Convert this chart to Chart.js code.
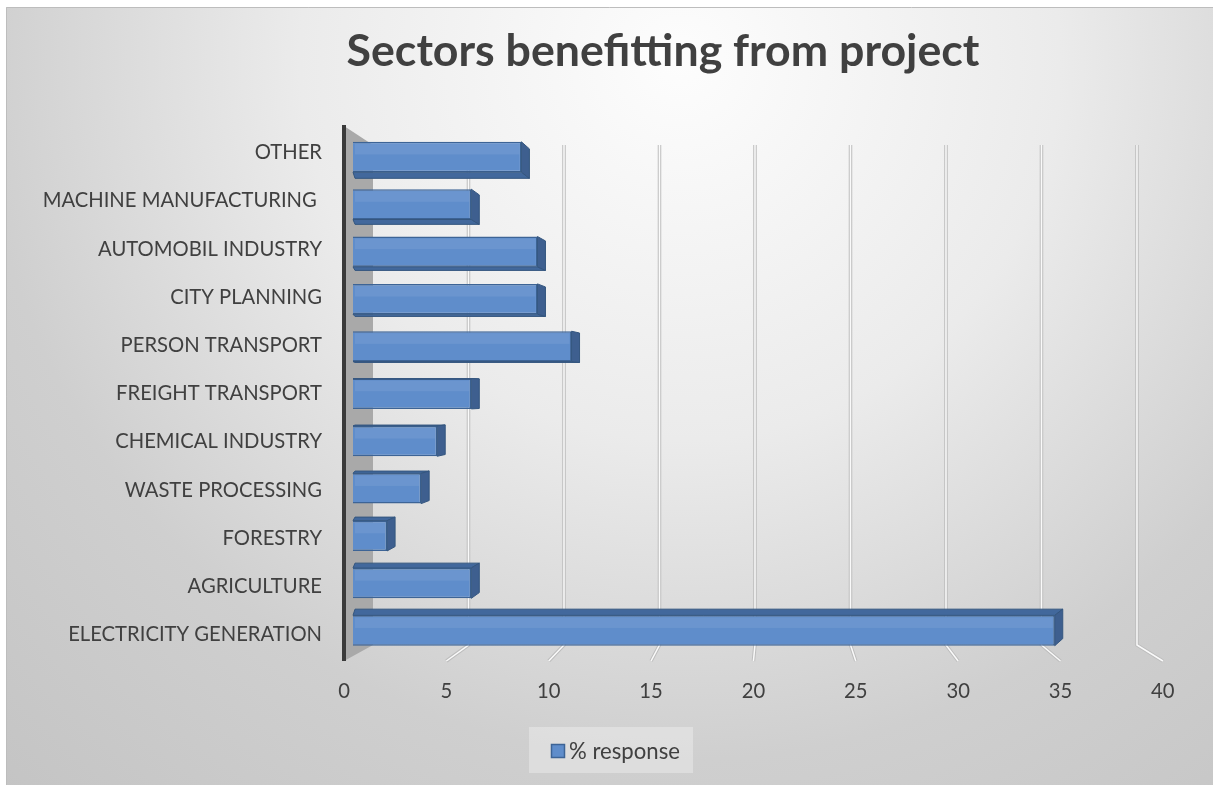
<!DOCTYPE html>
<html>
<head>
<meta charset="utf-8">
<script src="https://cdn.jsdelivr.net/npm/chart.js@4.4.1/dist/chart.umd.min.js"></script>
<style>
  html, body { margin: 0; padding: 0; background: #fff; }
  #wrap { width: 1213px; height: 785px; }
</style>
</head>
<body>
<div id="wrap"><canvas id="sectors" width="1213" height="785"></canvas></div>
<script>
// values (% response), top to bottom
const sectors = ["OTHER", "MACHINE MANUFACTURING ", "AUTOMOBIL INDUSTRY", "CITY PLANNING", "PERSON TRANSPORT",
  "FREIGHT TRANSPORT", "CHEMICAL INDUSTRY", "WASTE PROCESSING", "FORESTRY", "AGRICULTURE", "ELECTRICITY GENERATION"];
const response = [8.4, 5.9, 9.2, 9.2, 10.9, 5.9, 4.2, 3.4, 1.7, 5.9, 35];
const xTicks = [0, 5, 10, 15, 20, 25, 30, 35, 40];
const seriesName = "% response";
const chartTitle = "Sectors benefitting from project";

const textColor = "#404040";
const barFill = "#5f8dcb";
const barEdge = "#3d6496";
const barDark = "#42689c";
const family = "Lato, 'Open Sans', sans-serif";

// fit font sizes so the text widths match the picture
const mctx = document.createElement("canvas").getContext("2d");
function fitSize(text, weight, target) {
  mctx.font = weight + " 100px " + family;
  return 100 * target / mctx.measureText(text).width;
}
const titleSize = fitSize(chartTitle, "bold", 633);
const labelSize = fitSize("ELECTRICITY GENERATION", "normal", 254);
const legendSize = fitSize(seriesName, "normal", 111);

// perspective helpers, all from the x scale
function scaleInfo(chart) {
  const xs = chart.scales.x;
  const p0 = xs.getPixelForValue(0);
  const k = (xs.getPixelForValue(40) - p0) / 40;
  return { p0: p0, k: k };
}
function frontX(chart, v) { const s = scaleInfo(chart); return s.p0 - 9 + v * s.k * 1.021; }
function backX(chart, v) { const s = scaleInfo(chart); return s.p0 + 20 + v * s.k * 0.9526; }

const chart3d = {
  id: "chart3d",
  beforeDraw(chart) {
    const ctx = chart.ctx;
    ctx.save();
    ctx.fillStyle = "#ffffff";
    ctx.fillRect(0, 0, chart.width, chart.height);
    const g = ctx.createRadialGradient(680, 60, 0, 680, 60, 1000);
    g.addColorStop(0, "#fdfdfd");
    g.addColorStop(0.38, "#ebebeb");
    g.addColorStop(0.7, "#cfcfcf");
    g.addColorStop(1, "#c4c4c4");
    ctx.fillStyle = g;
    ctx.fillRect(6, 7, chart.width - 6, chart.height - 7);
    ctx.strokeStyle = "#bdbdbd";
    ctx.lineWidth = 1;
    ctx.beginPath();
    ctx.moveTo(6.5, chart.height);
    ctx.lineTo(6.5, 7.5);
    ctx.lineTo(chart.width, 7.5);
    ctx.stroke();
    ctx.restore();
  },
  beforeDatasetsDraw(chart) {
    const ctx = chart.ctx;
    const a = chart.chartArea;
    const backTop = a.top + 11.7, frontTop = a.top - 7.3;
    const backBottom = a.bottom - 9.2, frontBottom = a.bottom + 6.8;
    ctx.save();
    // side wall
    ctx.fillStyle = "#a9a9a9";
    ctx.beginPath();
    ctx.moveTo(frontX(chart, 0), frontTop);
    ctx.lineTo(backX(chart, 0), backTop);
    ctx.lineTo(backX(chart, 0), backBottom);
    ctx.lineTo(frontX(chart, 0), frontBottom);
    ctx.closePath();
    ctx.fill();
    // back and floor grid lines
    xTicks.forEach(function (v) {
      if (v === 0) return;
      const bx = backX(chart, v), fx = frontX(chart, v);
      [["#bdbdbd", 3.5], ["#fafafa", 1.5]].forEach(function (st) {
        ctx.strokeStyle = st[0];
        ctx.lineWidth = st[1];
        ctx.beginPath();
        ctx.moveTo(bx, backTop);
        ctx.lineTo(bx, backBottom);
        ctx.lineTo(fx, frontBottom);
        ctx.stroke();
      });
    });
    // axis line
    ctx.strokeStyle = "#3a3a3a";
    ctx.lineWidth = 4;
    ctx.beginPath();
    ctx.moveTo(frontX(chart, 0), frontTop - 1);
    ctx.lineTo(frontX(chart, 0), frontBottom);
    ctx.stroke();
    ctx.restore();
  },
  afterDatasetsDraw(chart) {
    const ctx = chart.ctx;
    const a = chart.chartArea;
    const h = (a.top + a.bottom) / 2;
    const f = 0.028, d = 8;
    ctx.save();
    ctx.lineWidth = 1;
    ctx.strokeStyle = "#34567f";
    chart.getDatasetMeta(0).data.forEach(function (bar) {
      const p = bar.getProps(["x", "y", "base", "height"], true);
      const x0 = p.base, x1 = p.x;
      const yt = p.y - p.height / 2, yb = p.y + p.height / 2;
      const ytb = yt + (h - yt) * f, ybb = yb + (h - yb) * f;
      // soft highlight on the front face
      ctx.fillStyle = "rgba(255,255,255,0.08)";
      ctx.fillRect(x0 + 2, yt + 2, x1 - x0 - 4, (yb - yt) * 0.35);
      ctx.fillStyle = barDark;
      // top or bottom face
      ctx.beginPath();
      if (p.y < h) {
        ctx.moveTo(x0, yb); ctx.lineTo(x1, yb); ctx.lineTo(x1 + d, ybb); ctx.lineTo(x0 + 2, ybb);
      } else {
        ctx.moveTo(x0, yt); ctx.lineTo(x1, yt); ctx.lineTo(x1 + d, ytb); ctx.lineTo(x0 + 2, ytb);
      }
      ctx.closePath();
      ctx.fill();
      ctx.stroke();
      // end cap
      ctx.fillStyle = "#3e5f8f";
      ctx.beginPath();
      ctx.moveTo(x1, yt); ctx.lineTo(x1 + d, ytb); ctx.lineTo(x1 + d, ybb); ctx.lineTo(x1, yb);
      ctx.closePath();
      ctx.fill();
      ctx.stroke();
    });
    ctx.restore();
  },
  afterDraw(chart) {
    const ctx = chart.ctx;
    const a = chart.chartArea;
    const h = (a.top + a.bottom) / 2;
    const ys = chart.scales.y;
    ctx.save();
    ctx.fillStyle = textColor;
    // title
    ctx.font = "bold " + titleSize + "px " + family;
    ctx.textAlign = "center";
    ctx.textBaseline = "alphabetic";
    ctx.fillText(chartTitle, 663, 66);
    // category labels on the front plane
    ctx.font = labelSize + "px " + family;
    ctx.textAlign = "right";
    ctx.textBaseline = "middle";
    sectors.forEach(function (s, i) {
      const y = h + (ys.getPixelForValue(i) - h) * 1.018;
      ctx.fillText(s, 322, y);
    });
    // value ticks
    ctx.textAlign = "center";
    xTicks.forEach(function (v) {
      ctx.fillText(String(v), frontX(chart, v), a.bottom + 37);
    });
    // legend
    ctx.fillStyle = "rgba(255,255,255,0.3)";
    ctx.fillRect(529, 727, 164, 46);
    ctx.fillStyle = barFill;
    ctx.strokeStyle = barEdge;
    ctx.lineWidth = 1.5;
    ctx.fillRect(551.5, 744.5, 13, 13);
    ctx.strokeRect(551.5, 744.5, 13, 13);
    ctx.fillStyle = textColor;
    ctx.font = legendSize + "px " + family;
    ctx.textAlign = "left";
    ctx.fillText(seriesName, 569, 752);
    ctx.restore();
  }
};

new Chart(document.getElementById("sectors"), {
  type: "bar",
  data: {
    labels: sectors,
    datasets: [
      {
        label: seriesName,
        data: response,
        backgroundColor: barFill,
        borderColor: barEdge,
        borderWidth: 1.5,
        barPercentage: 1,
        categoryPercentage: 0.64,
      },
    ],
  },
  options: {
    indexAxis: "y",
    responsive: false,
    animation: false,
    layout: { padding: { left: 353, right: 58, top: 133.3, bottom: 130.8 } },
    scales: {
      x: { display: false, min: 0, max: 40 },
      y: { display: false },
    },
    plugins: {
      legend: { display: false },
      title: { display: false },
      tooltip: { enabled: false },
    },
  },
  plugins: [chart3d],
});
</script>
</body>
</html>
